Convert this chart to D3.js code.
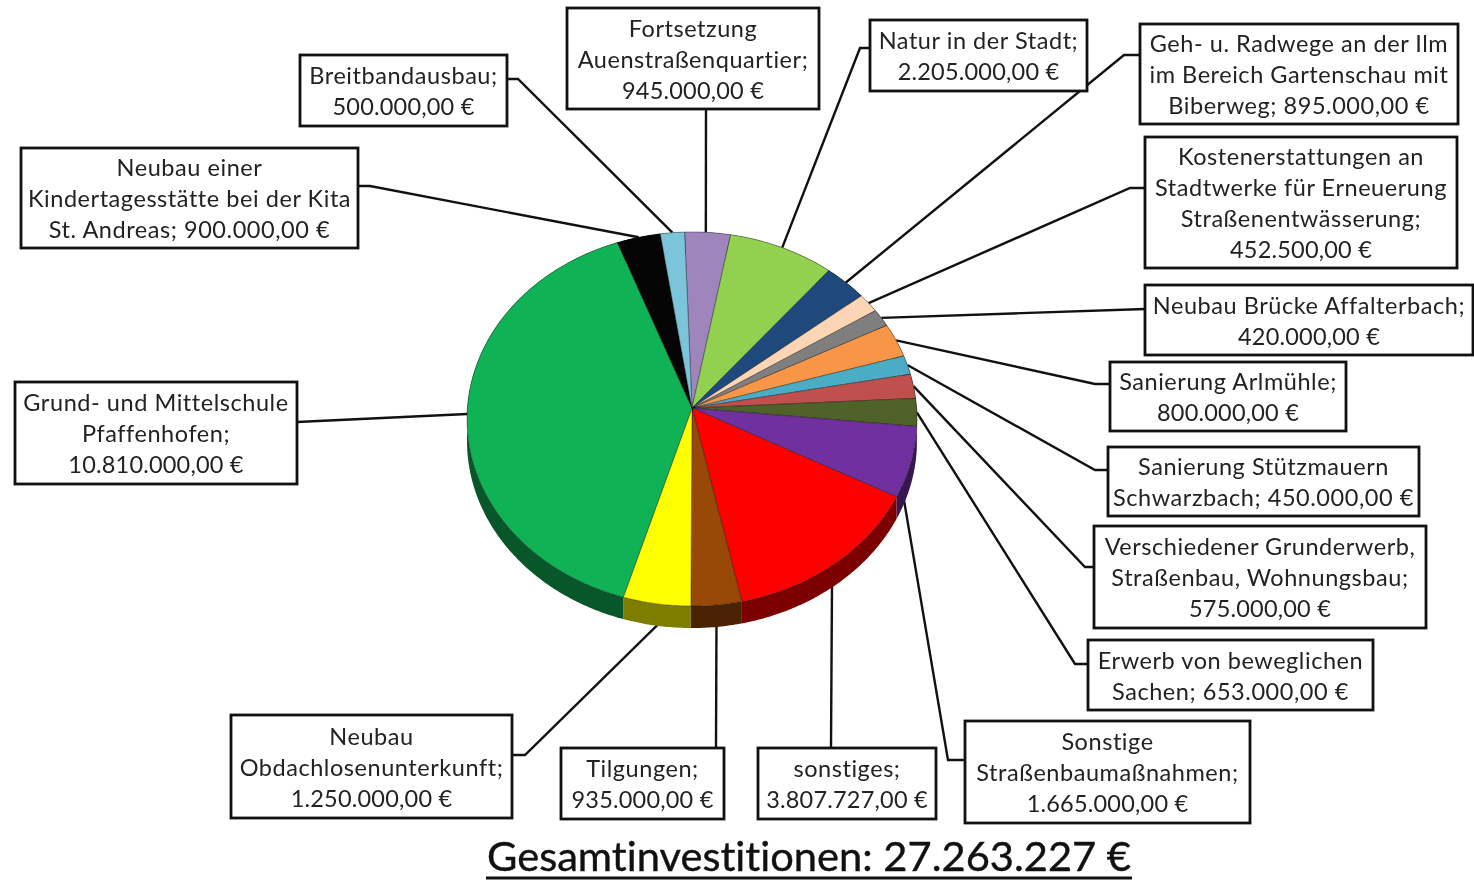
<!DOCTYPE html>
<html>
<head>
<meta charset="utf-8">
<script src="https://cdn.jsdelivr.net/npm/d3@7"></script>
<style>
  body { margin: 0; background: #fff; }
  svg { display: block; filter: blur(0.6px); }
  text { font-variant-ligatures: none; }
  .label { font-family: Lato, "Open Sans", sans-serif; font-size: 23.5px; fill: #222; text-anchor: middle; dominant-baseline: central; }
  .title { font-family: Lato, "Open Sans", sans-serif; font-size: 40px; fill: #111; stroke: #111; stroke-width: 0.4px; text-anchor: middle; }
  .box { fill: #fff; stroke: #111; stroke-width: 2.8px; }
  .leader { fill: none; stroke: #111; stroke-width: 2.4px; }
</style>
</head>
<body>
<div id="chart"></div>
<script>
var values = [945000, 2205000, 895000, 452500, 420000, 800000, 450000, 575000, 653000, 1665000, 3807727, 935000, 1250000, 10810000, 900000, 500000];

var labels = [
  ["Fortsetzung", "Auenstraßenquartier;", "945.000,00 €"],
  ["Natur in der Stadt;", "2.205.000,00 €"],
  ["Geh- u. Radwege an der Ilm", "im Bereich Gartenschau mit", "Biberweg; 895.000,00 €"],
  ["Kostenerstattungen an", "Stadtwerke für Erneuerung", "Straßenentwässerung;", "452.500,00 €"],
  ["Neubau Brücke Affalterbach;", "420.000,00 €"],
  ["Sanierung Arlmühle;", "800.000,00 €"],
  ["Sanierung Stützmauern", "Schwarzbach; 450.000,00 €"],
  ["Verschiedener Grunderwerb,", "Straßenbau, Wohnungsbau;", "575.000,00 €"],
  ["Erwerb von beweglichen", "Sachen; 653.000,00 €"],
  ["Sonstige", "Straßenbaumaßnahmen;", "1.665.000,00 €"],
  ["sonstiges;", "3.807.727,00 €"],
  ["Tilgungen;", "935.000,00 €"],
  ["Neubau", "Obdachlosenunterkunft;", "1.250.000,00 €"],
  ["Grund- und Mittelschule", "Pfaffenhofen;", "10.810.000,00 €"],
  ["Neubau einer", "Kindertagesstätte bei der Kita", "St. Andreas; 900.000,00 €"],
  ["Breitbandausbau;", "500.000,00 €"]
];

var colors = ["#9e86bd", "#92d050", "#1f497d", "#fcd5b5", "#7f7f7f", "#f79646", "#4bacc6", "#c0504d", "#4f6228", "#7030a0", "#ff0000", "#984807", "#ffff00", "#10b256", "#050505", "#7cc4da"];

var titleText = "Gesamtinvestitionen: 27.263.227 €";

// label box: x0, y0, x1, y1, the leader's way to the box, where on the slice it starts (default middle)
var boxes = [
  {r: [567, 8, 819, 109], via: [[706, 109]], at: 0.46},
  {r: [870, 20, 1087, 91], via: [[860, 48], [870, 48]]},
  {r: [1140, 24, 1458, 124], via: [[1124, 55], [1140, 55]]},
  {r: [1145, 137, 1457, 268], via: [[1130, 188], [1145, 188]]},
  {r: [1145, 285, 1473, 355], via: [[1145, 309]]},
  {r: [1110, 362, 1346, 431], via: [[1095, 384], [1110, 384]]},
  {r: [1108, 447, 1419, 516], via: [[1095, 470], [1108, 470]]},
  {r: [1094, 526, 1426, 628], via: [[1085, 567], [1094, 567]]},
  {r: [1088, 640, 1373, 710], via: [[1075, 664], [1088, 664]]},
  {r: [965, 721, 1250, 823], via: [[948, 760], [965, 760]], at: 0.85},
  {r: [758, 748, 936, 819], via: [[831, 748]], at: 0.515},
  {r: [561, 748, 724, 819], via: [[716, 748]]},
  {r: [231, 715, 512, 818], via: [[525, 755], [512, 755]], at: 0.2},
  {r: [15, 382, 297, 484], via: [[297, 422]]},
  {r: [21, 148, 358, 248], via: [[370, 186], [358, 186]]},
  {r: [300, 55, 507, 126], via: [[518, 79], [507, 79]]}
];

var width = 1474, height = 880;
var cx = 692, cy = 408;
var radius = 224.6, tilt = 186.4, persp = 0.0588, depth = 22;
var start = -2 * Math.PI / 180;
var lineGap = 31;

var svg = d3.select("#chart").append("svg")
  .attr("width", width)
  .attr("height", height);

var pie = d3.pie().sort(null).startAngle(start).endAngle(start + 2 * Math.PI);
var slices = pie(values);

// circle seen in perspective: the near edge is lower and larger
function rim(a, drop) {
  var w = 1 + persp * Math.cos(a);
  return [cx + radius * Math.sin(a) / w, cy - tilt * Math.cos(a) / w + (drop || 0)];
}

function steps(d) {
  var n = Math.max(2, Math.ceil((d.endAngle - d.startAngle) / 0.01));
  return d3.range(n + 1).map(function(i) {
    return d.startAngle + (d.endAngle - d.startAngle) * i / n;
  });
}

var line = d3.line();

/* leaders go first so the pie covers where they start */
svg.append("g").selectAll("path")
  .data(slices).enter()
  .append("path")
  .attr("class", "leader")
  .attr("d", function(d, i) {
    var at = boxes[i].at === undefined ? 0.5 : boxes[i].at;
    return line([rim(d.startAngle + (d.endAngle - d.startAngle) * at)].concat(boxes[i].via));
  });

/* side wall, the top faces cover the part at the back */
svg.append("g").selectAll("path")
  .data(slices).enter()
  .append("path")
  .attr("d", function(d) {
    var a = steps(d);
    var top = a.map(function(t) { return rim(t); });
    var bottom = a.slice().reverse().map(function(t) { return rim(t, depth); });
    return line(top.concat(bottom)) + "Z";
  })
  .style("fill", function(d, i) { return d3.color(colors[i]).darker(2); });

/* top faces */
svg.append("g").selectAll("path")
  .data(slices).enter()
  .append("path")
  .attr("d", function(d) {
    return line([[cx, cy]].concat(steps(d).map(function(t) { return rim(t); }))) + "Z";
  })
  .style("fill", function(d, i) { return colors[i]; })
  .style("stroke", "rgba(0,0,0,0.5)")
  .style("stroke-width", 0.7);

var groups = svg.append("g").selectAll("g")
  .data(labels).enter()
  .append("g");

groups.append("rect")
  .attr("class", "box")
  .attr("x", function(d, i) { return boxes[i].r[0]; })
  .attr("y", function(d, i) { return boxes[i].r[1]; })
  .attr("width", function(d, i) { return boxes[i].r[2] - boxes[i].r[0]; })
  .attr("height", function(d, i) { return boxes[i].r[3] - boxes[i].r[1]; });

groups.each(function(d, i) {
  var r = boxes[i].r;
  var mid = (r[1] + r[3]) / 2;
  d3.select(this).selectAll("text")
    .data(d).enter()
    .append("text")
    .attr("class", "label")
    .attr("x", (r[0] + r[2]) / 2)
    .attr("y", function(t, j) { return mid + (j - (d.length - 1) / 2) * lineGap; })
    .style("letter-spacing", function(t) { return /^[\d.,]+ €$/.test(t) ? "0.2px" : "0.55px"; })
    .text(function(t) { return t; });
});

svg.append("text")
  .attr("class", "title")
  .attr("x", 809)
  .attr("y", 871)
  .attr("textLength", 644)
  .attr("lengthAdjust", "spacingAndGlyphs")
  .text(titleText);

svg.append("line")
  .attr("x1", 486).attr("x2", 1132)
  .attr("y1", 878).attr("y2", 878)
  .style("stroke", "#111")
  .style("stroke-width", 3);
</script>
</body>
</html>
